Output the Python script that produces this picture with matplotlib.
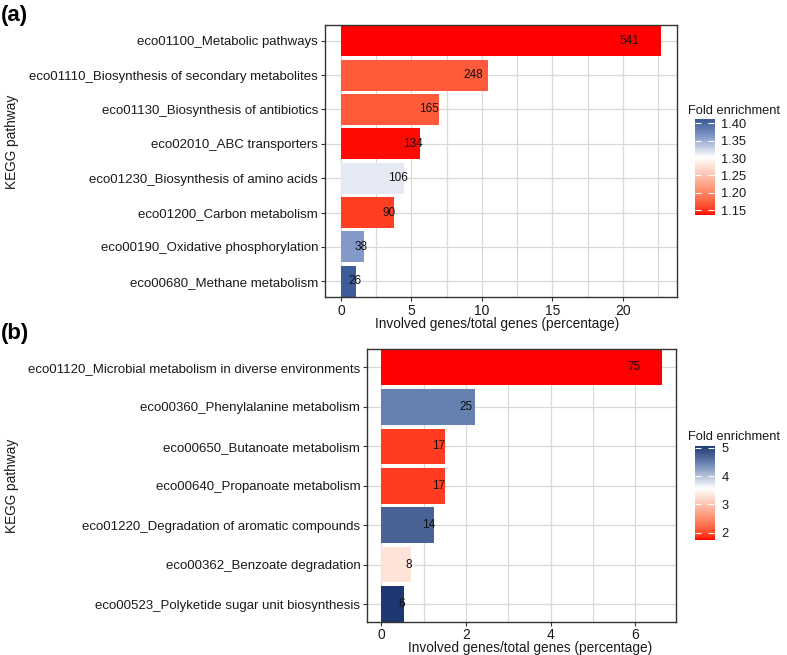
import numpy as np
import matplotlib
matplotlib.use("Agg")
import matplotlib.pyplot as plt
from matplotlib.colors import ListedColormap, TwoSlopeNorm, to_rgb

plt.rcParams['font.family'] = ['Liberation Sans', 'DejaVu Sans']

# panel (a)
pathways_a = ['eco01100_Metabolic pathways',
              'eco01110_Biosynthesis of secondary metabolites',
              'eco01130_Biosynthesis of antibiotics',
              'eco02010_ABC transporters',
              'eco01230_Biosynthesis of amino acids',
              'eco01200_Carbon metabolism',
              'eco00190_Oxidative phosphorylation',
              'eco00680_Methane metabolism']
percent_a = [22.7, 10.42, 6.94, 5.63, 4.47, 3.79, 1.61, 1.09]
counts_a = [541, 248, 165, 134, 106, 90, 38, 26]
fold_a = [1.136, 1.168, 1.168, 1.137, 1.315, 1.152, 1.362, 1.41]
cbar_ticks_a = [1.15, 1.20, 1.25, 1.30, 1.35, 1.40]

# panel (b)
pathways_b = ['eco01120_Microbial metabolism in diverse environments',
              'eco00360_Phenylalanine metabolism',
              'eco00650_Butanoate metabolism',
              'eco00640_Propanoate metabolism',
              'eco01220_Degradation of aromatic compounds',
              'eco00362_Benzoate degradation',
              'eco00523_Polyketide sugar unit biosynthesis']
percent_b = [6.63, 2.21, 1.50, 1.50, 1.24, 0.71, 0.53]
counts_b = [75, 25, 17, 17, 14, 8, 6]
fold_b = [1.745, 4.46, 1.92, 1.92, 4.69, 3.28, 5.05]
cbar_ticks_b = [2, 3, 4, 5]

fig = plt.figure(figsize=(7.87, 6.55), dpi=100)
W, H = 787, 655

M = np.array([[0.4124, 0.3576, 0.1805], [0.2126, 0.7152, 0.0722], [0.0193, 0.1192, 0.9505]])
WHITE = M @ np.ones(3)


# red half interpolated in Lab space (like ggplot), blue half through a few RGB stops
def to_lab(c):
    rgb = np.array(to_rgb(c))
    lin = np.where(rgb <= 0.04045, rgb / 12.92, ((rgb + 0.055) / 1.055) ** 2.4)
    xyz = M @ lin / WHITE
    f = np.where(xyz > 0.008856, np.cbrt(xyz), 7.787 * xyz + 16 / 116)
    return np.array([116 * f[1] - 16, 500 * (f[0] - f[1]), 200 * (f[1] - f[2])])


def from_lab(lab):
    L, a, b = lab.T
    fy = (L + 16) / 116
    f = np.stack([fy + a / 500, fy, fy - b / 200], axis=1)
    xyz = np.where(f > 0.2069, f ** 3, (f - 16 / 116) / 7.787) * WHITE
    lin = np.clip(xyz @ np.linalg.inv(M).T, 0, 1)
    rgb = np.where(lin <= 0.0031308, 12.92 * lin, 1.055 * lin ** (1 / 2.4) - 0.055)
    return np.clip(rgb, 0, 1)


def make_cmap(low, mid, blue_stops, blue_pos, n=256):
    t = np.linspace(0, 1, n // 2)
    lo, md = to_lab(low), to_lab(mid)
    first = from_lab(lo + (md - lo) * t[:, None])
    stops = np.array([to_rgb(mid)] + [to_rgb(c) for c in blue_stops])
    pos = [0] + blue_pos
    second = np.stack([np.interp(t, pos, stops[:, k]) for k in range(3)], axis=1)
    return ListedColormap(np.vstack([first, second]))


def px_axes(l, t, r, b):
    return fig.add_axes([l / W, 1 - b / H, (r - l) / W, (b - t) / H])


def draw_panel(ax, names, perc, counts, fold, cmap, norm, major, minor):
    n = len(names)
    pos = np.arange(n)[::-1]
    colors = cmap(norm(np.array(fold)))
    ax.set_axisbelow(True)
    ax.barh(pos, perc, height=0.9, color=colors, zorder=2)
    for p, v, c in zip(pos, perc, counts):
        ax.text(v * 0.9, p, str(c), ha='center', va='center', fontsize=8.5, color='#111111', zorder=3)
    ax.set_yticks(pos)
    ax.set_yticklabels(names)
    ax.set_ylim(-0.46, n - 1 + 0.46)
    xmax = max(perc)
    ax.set_xlim(-0.05 * xmax, xmax * 1.05)
    ax.set_xticks(major)
    ax.set_xticks(minor, minor=True)
    ax.tick_params(axis='x', which='minor', length=0)
    ax.tick_params(axis='both', which='major', length=3, color='#333333', labelcolor='#1a1a1a', pad=2)
    ax.tick_params(axis='x', labelsize=10)
    ax.tick_params(axis='y', labelsize=9.5)
    ax.grid(True, which='both', color='#d9d9d9', linewidth=0.9)
    for s in ax.spines.values():
        s.set_color('#333333')
        s.set_linewidth(1.0)
    ax.set_xlabel('Involved genes/total genes (percentage)', fontsize=9.8, color='#1a1a1a')


def draw_cbar(cax, cmap, norm, lo, hi, ticks):
    vals = np.linspace(lo, hi, 300)
    cax.imshow(vals[:, None], aspect='auto', cmap=cmap, norm=norm, origin='lower',
               extent=[0, 1, lo, hi])
    cax.set_xlim(0, 1)
    cax.set_ylim(lo, hi)
    cax.set_xticks([])
    cax.set_yticks(ticks)
    cax.set_yticklabels([f'{t:.2f}' if isinstance(t, float) else str(t) for t in ticks], fontsize=9.3, color='#1a1a1a')
    cax.yaxis.tick_right()
    cax.tick_params(axis='y', direction='in', color='white', length=4, width=0.8, left=True, right=True, pad=5)
    for s in cax.spines.values():
        s.set_visible(False)


cmap_a = make_cmap('#ff0000', '#ffffff', ['#8098c8', '#3a5a98'], [0.55, 1.0])
norm_a = TwoSlopeNorm(vmin=1.135, vcenter=1.302, vmax=1.412)
cmap_b = make_cmap('#ff0000', '#ffffff', ['#6680b0', '#1c3670'], [0.6, 1.0])
norm_b = TwoSlopeNorm(vmin=1.74, vcenter=3.55, vmax=5.07)

ax_a = px_axes(325, 25, 677, 297)
draw_panel(ax_a, pathways_a, percent_a, counts_a, fold_a, cmap_a, norm_a,
           [0, 5, 10, 15, 20], [2.5, 7.5, 12.5, 17.5, 22.5])
ax_a.xaxis.set_label_coords(0.49, -0.072)

ax_b = px_axes(367.3, 349.3, 676, 622.3)
draw_panel(ax_b, pathways_b, percent_b, counts_b, fold_b, cmap_b, norm_b,
           [0, 2, 4, 6], [1, 3, 5])
ax_b.tick_params(axis='x', pad=1)
ax_b.xaxis.set_label_coords(0.527, -0.068)

cax_a = px_axes(695, 119.3, 714.3, 215.3)
draw_cbar(cax_a, cmap_a, norm_a, 1.135, 1.412, cbar_ticks_a)
cax_b = px_axes(695, 445.7, 714.3, 540)
draw_cbar(cax_b, cmap_b, norm_b, 1.74, 5.07, cbar_ticks_b)

fig.text(688 / W, 1 - 111 / H, 'Fold enrichment', fontsize=9.3, va='center', ha='left', color='#1a1a1a')
fig.text(688 / W, 1 - 437 / H, 'Fold enrichment', fontsize=9.3, va='center', ha='left', color='#1a1a1a')

fig.text(12 / W, 1 - 142 / H, 'KEGG pathway', rotation=90, fontsize=9.8, va='center', ha='center', color='#1a1a1a')
fig.text(12 / W, 1 - 486 / H, 'KEGG pathway', rotation=90, fontsize=9.8, va='center', ha='center', color='#1a1a1a')

fig.text(1 / W, 1 - 16 / H, '(a)', fontsize=16, fontweight='bold', va='center', ha='left')
fig.text(1 / W, 1 - 333 / H, '(b)', fontsize=16, fontweight='bold', va='center', ha='left')

fig.savefig('out.png', dpi=100)
